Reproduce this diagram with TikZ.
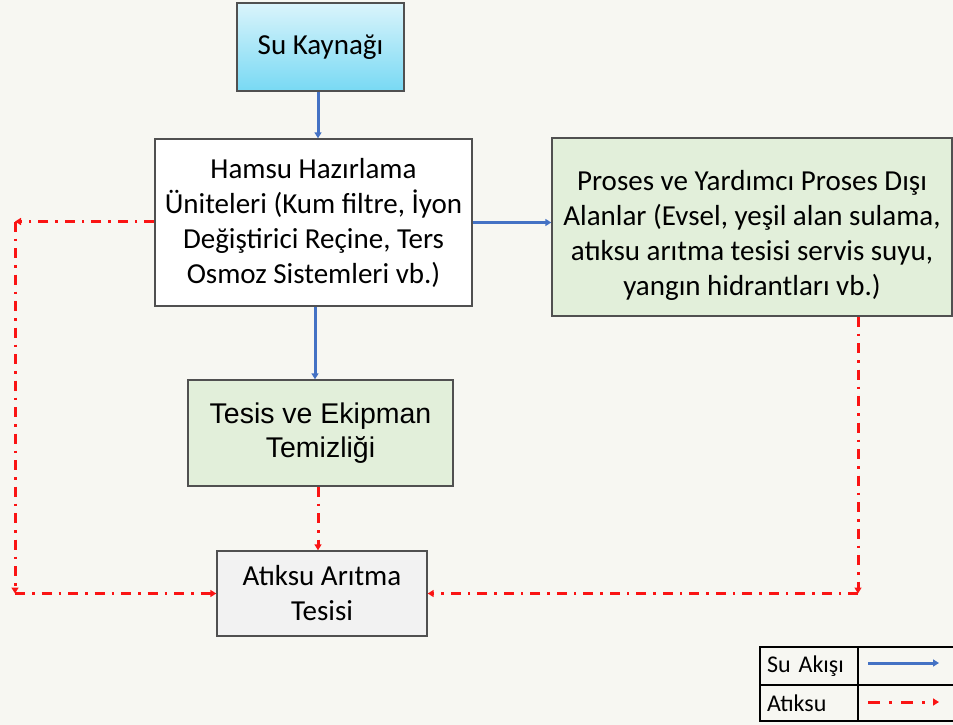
\documentclass[tikz,border=0pt]{standalone}
\usepackage{fontspec}
\setmainfont{Carlito}
\newfontfamily\arialf{Liberation Sans}
\usetikzlibrary{arrows.meta}
\definecolor{bgc}{RGB}{247,247,242}
\definecolor{bordc}{RGB}{80,80,80}
\definecolor{flowc}{RGB}{68,114,196}
\definecolor{wastec}{RGB}{250,20,20}
\definecolor{greenf}{RGB}{226,239,218}
\definecolor{grayf}{RGB}{242,242,242}
\definecolor{cyantop}{RGB}{218,244,251}
\definecolor{cyanbot}{RGB}{120,217,244}
\tikzset{
  box/.style={draw=bordc, line width=1.4pt, rectangle, inner sep=0pt, align=center,
    font=\fontsize{29}{35}\selectfont},
  boxtext/.style={inner sep=0pt, align=center, font=\fontsize{29}{35}\selectfont},
  flow/.style={draw=flowc, line width=3pt, -{Triangle[length=6pt,width=7pt]}},
  waste/.style={draw=wastec, line width=3pt,
    dash pattern=on 10pt off 7pt on 2.5pt off 7pt,
    -{Triangle[length=6pt,width=7pt]}},
  legcell/.style={draw=black, line width=1.3pt, rectangle, inner xsep=7pt, inner ysep=0pt,
    align=left, text width=84pt, font=\fontsize{24}{28}\selectfont},
}
\begin{document}
\begin{tikzpicture}[x=1pt,y=-1pt]
\useasboundingbox (0,0) rectangle (953,725);
\fill[bgc] (0,0) rectangle (953,725);

\node[box, minimum width=167pt, minimum height=88pt, top color=cyantop, bottom color=cyanbot]
  (su) at (320.5,47) {Su Kaynağı};
\node[box, fill=white, minimum width=317pt, minimum height=167pt]
  (hamsu) at (313.5,222.5) {Hamsu Hazırlama\\Üniteleri (Kum filtre, İyon\\Değiştirici Reçine, Ters\\Osmoz Sistemleri vb.)};
\node[box, fill=greenf, minimum width=400pt, minimum height=178pt]
  (proses) at (752,227) {};
\node[boxtext] (prosestext) at ([yshift=-8pt]proses.center) {Proses ve Yardımcı Proses Dışı\\Alanlar (Evsel, yeşil alan sulama,\\atıksu arıtma tesisi servis suyu,\\yangın hidrantları vb.)};
\node[box, fill=greenf, minimum width=265pt, minimum height=106pt,
  font=\arialf\fontsize{28.5}{34.5}\selectfont]
  (tesis) at (320.5,433) {Tesis ve Ekipman\\Temizliği};
\node[box, fill=grayf, minimum width=210pt, minimum height=85pt]
  (atik) at (322,593.5) {Atıksu Arıtma\\Tesisi};

% blue flows
\draw[flow] ([xshift=-2.5pt]su.south) -- ([xshift=-2.5pt]su.south |- hamsu.north);
\draw[flow] ([xshift=1.5pt]hamsu.south) -- ([xshift=1.5pt]hamsu.south |- tesis.north);
\draw[flow] (hamsu.east) -- (hamsu.east -| proses.west);

% red waste flows
\coordinate (cl1) at (15,221.5);
\coordinate (cl2) at (15,593.5);
\coordinate (cr2) at (858,593.5);
\draw[waste] (hamsu.west |- cl1) -- (cl1);
\draw[waste] (cl1) -- (cl2);
\draw[waste] (cl2) -- (atik.west);
\draw[waste] (proses.south -| cr2) -- (cr2);
\draw[waste] (cr2) -- (atik.east);
\draw[waste] ([xshift=-2.5pt]tesis.south) -- ([xshift=-2.5pt]tesis.south |- atik.north);

% legend
\node[legcell, minimum height=38pt] (lg1) at (809,666) {Su Akışı};
\node[legcell, minimum height=36pt] (lg2) at (809,703) {Atıksu};
\node[draw=black, line width=1.3pt, rectangle, inner sep=0pt, minimum width=100pt, minimum height=38pt] (lg3) at (908,666) {};
\node[draw=black, line width=1.3pt, rectangle, inner sep=0pt, minimum width=100pt, minimum height=36pt] (lg4) at (908,703) {};
\coordinate (la1) at (868,663);
\coordinate (la2) at (939,663);
\coordinate (lb1) at (868,702);
\coordinate (lb2) at (939,702);
\draw[flow] (la1) -- (la2);
\draw[waste, dash pattern=on 12pt off 9pt on 3pt off 9pt] (lb1) -- (lb2);
\end{tikzpicture}
\end{document}
